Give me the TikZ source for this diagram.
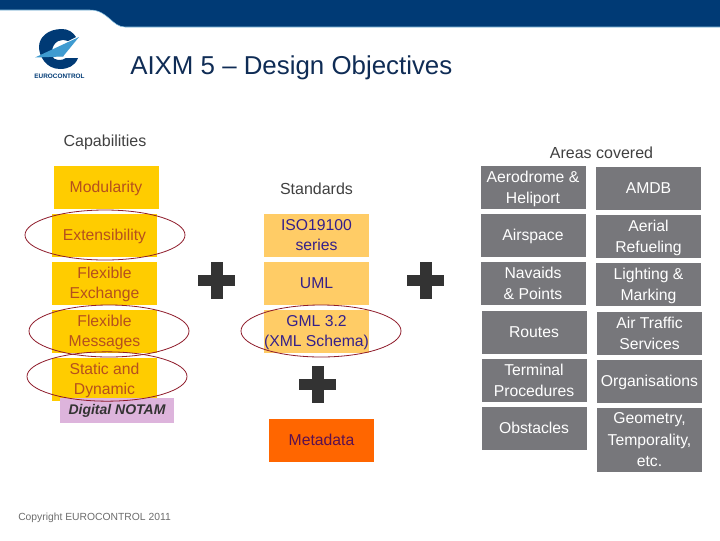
\documentclass[tikz,border=0pt]{standalone}
\usepackage{fontspec}
\setmainfont{Liberation Sans}
\usetikzlibrary{shapes.geometric}
\definecolor{navy}{HTML}{003A75}
\definecolor{wing}{HTML}{3F9BD0}
\definecolor{titlec}{HTML}{0F2C55}
\definecolor{gold}{HTML}{FFCC00}
\definecolor{goldtxt}{HTML}{B5501E}
\definecolor{pale}{HTML}{FFCC66}
\definecolor{paletxt}{HTML}{35208A}
\definecolor{meta}{HTML}{FF6600}
\definecolor{metatxt}{HTML}{5A1050}
\definecolor{grayb}{HTML}{77777B}
\definecolor{pink}{HTML}{DDB4DC}
\definecolor{plusc}{HTML}{333333}
\definecolor{ring}{HTML}{8E1B2A}
\definecolor{labelc}{HTML}{404040}
\newcommand{\mlines}[1]{\raisebox{0pt}[0pt][0pt]{\begin{tabular}{@{}c@{}}#1\end{tabular}}}
\tikzset{
  x=0.75pt,y=-0.75pt,
  cell/.style={rectangle,inner sep=0pt,minimum width=78.75pt,minimum height=32.25pt,align=center,
    execute at begin node={\rule{0pt}{11.5pt}},execute at end node={\rule[-4pt]{0pt}{0pt}}},
  goldbox/.style={cell,fill=gold,text=goldtxt,font=\fontsize{11.8}{15}\selectfont},
  palebox/.style={cell,fill=pale,text=paletxt,font=\fontsize{11.8}{15}\selectfont},
  metabox/.style={cell,fill=meta,text=metatxt,font=\fontsize{11.8}{15}\selectfont},
  graybox/.style={cell,fill=grayb,text=white,font=\fontsize{11.8}{16}\selectfont},
  plain/.style={inner sep=0pt,align=center,text=labelc,font=\fontsize{12}{15}\selectfont},
  ring/.style={ellipse,draw=ring,line width=0.6pt,inner sep=0pt,minimum width=120pt,minimum height=38pt},
  plussign/.style={fill=plusc,draw=none}
}
\begin{document}
\begin{tikzpicture}
\useasboundingbox (0,0) rectangle (720,540);
% header band
\fill[navy] (0,0) -- (720,0) -- (720,27) -- (125,27) .. controls (112,27) and (108,10) .. (90,10) -- (0,10) -- cycle;
\draw[wing!60,line width=0.4pt] (0,10) -- (90,10) .. controls (108,10) and (112,27) .. (125,27) -- (720,27);
% logo
\fill[navy,even odd rule] (62,29) .. controls (48,29) and (39,37) .. (39,47) .. controls (39,56) and (46,69) .. (60,69) .. controls (68,69) and (75,66) .. (78,58) -- (66,58) .. controls (62,61) and (54,61) .. (52,56) -- (64,56) -- (52,51) .. controls (53,41) and (62,38) .. (68,41) -- (76,37) .. controls (73,32) and (68,29) .. (62,29) -- cycle;
\fill[wing] (35,57.5) -- (79,37) -- (63,56.5) -- cycle;
\node[inner sep=0pt,text=navy,font=\bfseries\fontsize{4.8}{6}\selectfont] (logotext) at (59.5,76.5) {EUROCONTROL};
% title
\node[anchor=base west,inner sep=0pt,text=titlec,font=\fontsize{19.4}{24}\selectfont] (title) at (130,74) {AIXM 5 – Design Objectives};
\node[plain] (cap) at (105,142) {Capabilities};
\node[plain] (areas) at (601.5,152.5) {Areas covered};
\node[plain] (std) at (316.5,189) {Standards};
% capability boxes
\node[goldbox] (mod) at (106,187.5) {Modularity};
\node[goldbox] (ext) at (104.5,235.5) {Extensibility};
\node[goldbox] (fex) at (104.5,283.5) {\mlines{Flexible\\Exchange}};
\node[goldbox] (fme) at (104.5,331.5) {\mlines{Flexible\\Messages}};
\node[goldbox] (sta) at (104.5,379.5) {\mlines{Static and\\Dynamic}};
\node[fill=pink,inner sep=0pt,minimum width=85.5pt,minimum height=18.75pt,text=black!80,font=\bfseries\itshape\fontsize{10.5}{12}\selectfont] (dig) at (117,410.5) {Digital NOTAM};
% standards boxes
\node[palebox] (iso) at (316.5,235.5) {\mlines{ISO19100\\series}};
\node[palebox] (uml) at (316.5,283.5) {UML};
\node[palebox] (gml) at (316.5,331.5) {\mlines{GML 3.2\\(XML Schema)}};
\node[metabox] (mtd) at (321.5,440.5) {Metadata};
% ellipses
\node[ring,minimum height=37.5pt] (r1) at (105,235) {};
\node[ring,minimum height=39pt] (r2) at (109,331) {};
\node[ring,minimum height=37pt] (r3) at (107,376.5) {};
\node[ring,minimum height=39pt] (r4) at (321,331) {};
% plus signs
\foreach \n/\cx/\cy in {p1/216.5/280.5,p2/425.5/280.5,p3/317.5/384.5}{
  \fill[plussign] (\cx-18.5,\cy-5.5) rectangle (\cx+18.5,\cy+5.5);
  \fill[plussign] (\cx-6,\cy-18.5) rectangle (\cx+6,\cy+18.5);
}
% areas
\node[graybox] (a1) at (533,187.5) {\mlines{Aerodrome \&\\Heliport}};
\node[graybox] (a2) at (533,235.5) {Airspace};
\node[graybox] (a3) at (533,283.5) {\mlines{Navaids\\\& Points}};
\node[graybox] (a4) at (534,332.5) {Routes};
\node[graybox] (a5) at (534,380.5) {\mlines{Terminal\\Procedures}};
\node[graybox] (a6) at (534,428.5) {Obstacles};
\node[graybox] (b1) at (648.5,188.5) {AMDB};
\node[graybox] (b2) at (648.5,236.5) {\mlines{Aerial\\Refueling}};
\node[graybox] (b3) at (648.5,284.5) {\mlines{Lighting \&\\Marking}};
\node[graybox] (b4) at (649.5,333.5) {\mlines{Air Traffic\\Services}};
\node[graybox] (b5) at (649.5,381.5) {Organisations};
\node[graybox,minimum height=48pt] (b6) at (649.5,440) {\mlines{Geometry,\\Temporality,\\etc.}};
% footer
\node[anchor=base west,inner sep=0pt,text=gray!85!black,font=\fontsize{7.75}{9}\selectfont] (copy) at (18,520.5) {Copyright EUROCONTROL 2011};
\end{tikzpicture}
\end{document}
